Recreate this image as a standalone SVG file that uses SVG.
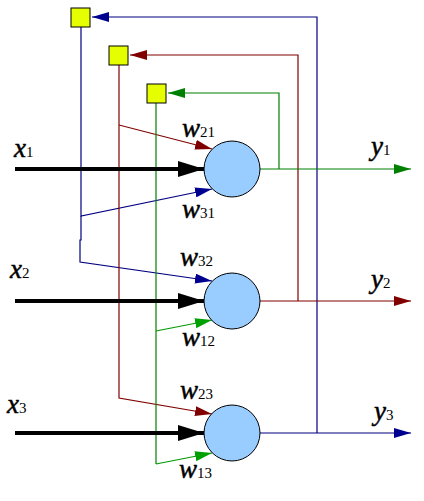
<svg xmlns="http://www.w3.org/2000/svg" width="424" height="501" viewBox="0 0 424 501">
<defs>
<style>
.sq{fill:#e6ff00;stroke:#000;stroke-width:1}
.nd{fill:#99ccff;stroke:#000;stroke-width:1}
.ln{fill:none;stroke-width:1.2}
.b{stroke:#000080}.r{stroke:#800000}.g{stroke:#008000}.lg{stroke:#009a00}
.in{stroke:#000;stroke-width:4;fill:none}
.v{font-family:"Liberation Serif",serif;font-style:italic;font-size:27px;fill:#000;stroke:#000;stroke-width:0.5}
.s{font-style:normal;font-size:15px;stroke-width:0}
</style>
<marker id="ab" markerUnits="userSpaceOnUse" markerWidth="17" markerHeight="10" refX="17" refY="5" orient="auto"><path d="M0,0L17,5L0,10z" fill="#000090"/></marker>
<marker id="ar" markerUnits="userSpaceOnUse" markerWidth="17" markerHeight="10" refX="17" refY="5" orient="auto"><path d="M0,0L17,5L0,10z" fill="#800000"/></marker>
<marker id="ag" markerUnits="userSpaceOnUse" markerWidth="17" markerHeight="10" refX="17" refY="5" orient="auto"><path d="M0,0L17,5L0,10z" fill="#008000"/></marker>
<marker id="alg" markerUnits="userSpaceOnUse" markerWidth="17" markerHeight="10" refX="17" refY="5" orient="auto"><path d="M0,0L17,5L0,10z" fill="#00a000"/></marker>
<marker id="ak" markerUnits="userSpaceOnUse" markerWidth="26" markerHeight="16" refX="26" refY="8" orient="auto"><path d="M0,0L26,8L0,16z" fill="#000"/></marker>
</defs>
<g id="connectors">
<path class="ln b" d="M81,27V216L212,189" marker-end="url(#ab)"/>
<path class="ln b" d="M81,216V240H80V262L212,281" marker-end="url(#ab)"/>
<path class="ln b" d="M260,433H411" marker-end="url(#ab)"/>
<path class="ln b" d="M317,433V17H92" marker-end="url(#ab)"/>
<path class="ln r" d="M119,65V398L212,414" marker-end="url(#ar)"/>
<path class="ln r" d="M119,125L212,149" marker-end="url(#ar)"/>
<path class="ln r" d="M260,301H411" marker-end="url(#ar)"/>
<path class="ln r" d="M298,301V55H130" marker-end="url(#ar)"/>
<path class="ln g" d="M156,102V464"/>
<path class="ln lg" d="M156,464L212,453" marker-end="url(#alg)"/>
<path class="ln lg" d="M156,331L212,320" marker-end="url(#alg)"/>
<path class="ln g" d="M260,169H411" marker-end="url(#ag)"/>
<path class="ln g" d="M279,169V93H168" marker-end="url(#ag)"/>
<path class="in" d="M15,169H204" marker-end="url(#ak)"/>
<path class="in" d="M15,301H204" marker-end="url(#ak)"/>
<path class="in" d="M15,433H204" marker-end="url(#ak)"/>
</g>
<g id="delay1"><rect class="sq" x="71" y="8" width="19" height="19"/></g>
<g id="delay2"><rect class="sq" x="109" y="46" width="19" height="19"/></g>
<g id="delay3"><rect class="sq" x="147" y="84" width="19" height="19"/></g>
<g id="neuron1"><circle class="nd" cx="232" cy="169" r="28"/></g>
<g id="neuron2"><circle class="nd" cx="232" cy="301" r="28"/></g>
<g id="neuron3"><circle class="nd" cx="232" cy="433" r="28"/></g>
<g id="labels">
<text class="v" x="14" y="157">x<tspan class="s">1</tspan></text>
<text class="v" x="10" y="278">x<tspan class="s">2</tspan></text>
<text class="v" x="7" y="413">x<tspan class="s" font-style="italic">3</tspan></text>
<text class="v" x="371" y="155">y<tspan class="s">1</tspan></text>
<text class="v" x="371" y="288">y<tspan class="s">2</tspan></text>
<text class="v" x="374" y="420">y<tspan class="s">3</tspan></text>
<text class="v" x="182" y="137">w<tspan class="s">21</tspan></text>
<text class="v" x="182" y="218">w<tspan class="s">31</tspan></text>
<text class="v" x="180" y="266">w<tspan class="s">32</tspan></text>
<text class="v" x="182" y="346">w<tspan class="s">12</tspan></text>
<text class="v" x="180" y="399">w<tspan class="s">23</tspan></text>
<text class="v" x="179" y="478">w<tspan class="s">13</tspan></text>
</g>
</svg>
